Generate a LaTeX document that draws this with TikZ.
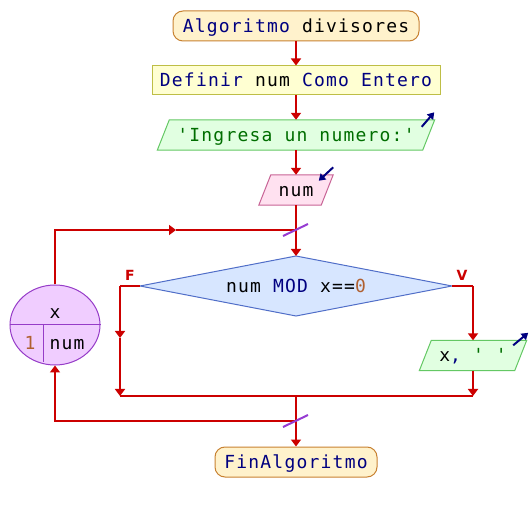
\documentclass[tikz,border=0pt]{standalone}
\usepackage{fontspec}
\setmonofont{DejaVu Sans Mono}[LetterSpace=6.7]
\newfontfamily\lblfont{DejaVu Sans}
\usetikzlibrary{arrows.meta,shapes.geometric,backgrounds}
\definecolor{kwc}{RGB}{0,0,128}
\definecolor{stc}{RGB}{0,110,0}
\definecolor{nmc}{RGB}{176,96,48}
\definecolor{lred}{RGB}{204,0,0}
\definecolor{termF}{RGB}{255,242,204}
\definecolor{termD}{RGB}{200,130,50}
\definecolor{defF}{RGB}{255,255,210}
\definecolor{defD}{RGB}{190,190,70}
\definecolor{outF}{RGB}{225,255,225}
\definecolor{outD}{RGB}{100,200,100}
\definecolor{inF}{RGB}{255,225,240}
\definecolor{inD}{RGB}{200,100,150}
\definecolor{condF}{RGB}{215,230,255}
\definecolor{condD}{RGB}{80,110,200}
\definecolor{loopF}{RGB}{240,205,255}
\definecolor{loopD}{RGB}{150,60,200}
\definecolor{slashc}{RGB}{150,60,210}
\newcommand\kw[1]{\textcolor{kwc}{#1}}
\newcommand\st[1]{\textcolor{stc}{#1}}
\newcommand\nm[1]{\textcolor{nmc}{#1}}
\tikzset{
  txt/.style={font=\ttfamily\fontsize{18}{21}\selectfont, text=black, inner sep=0pt, text height=16pt, text depth=3pt},
  term/.style={txt, rectangle, rounded corners=10pt, draw=termD, fill=termF, line width=1pt, minimum height=30pt},
  defbox/.style={txt, rectangle, draw=defD, fill=defF, line width=1pt, minimum height=29pt},
  iobox/.style={txt, rectangle, minimum height=30pt},
  flow/.style={draw=lred, line width=2pt},
  arr/.style={-{Triangle[width=10pt,length=7pt]}},
  slash/.style={draw=slashc, line width=2pt},
  icon/.style={draw=kwc, line width=2pt, -{Triangle[width=8pt,length=6.5pt]}},
  lbl/.style={font=\lblfont\bfseries\fontsize{14}{16}\selectfont, text=lred, inner sep=0pt},
}
\begin{document}
\begin{tikzpicture}[x=1pt,y=-1pt]
\useasboundingbox (0,0) rectangle (530,510);

% nodes
\node[term, minimum width=246pt] (start) at (296,26) {\kw{Algoritmo} divisores};
\node[defbox, minimum width=288pt] (def) at (296,80.5) {\kw{Definir} num \kw{Como Entero}};
\node[iobox, minimum width=265pt] (out1) at (296,135) {\st{'Ingresa un numero:'}};
\node[iobox, minimum width=62pt] (in1) at (296,190) {num};
\node[txt] (cond) at (296,286) {num \kw{MOD} x==\nm{0}};
\node[iobox, minimum width=95pt] (out2) at (473,355.5) {x\kw{,} \st{' '}};
\node[term, minimum width=162pt] (fin) at (296,462) {\kw{FinAlgoritmo}};
\node[ellipse, draw=loopD, fill=loopF, line width=1pt, minimum width=90pt, minimum height=80pt, inner sep=0pt] (loop) at (55,325) {};
\node[txt] (lx) at (55,312) {x};
\node[txt] (l1) at (30,343) {\nm{1}};
\node[txt] (lnum) at (67,343) {num};
\node[lbl] (lf) at (130,275) {F};
\node[lbl] (lv) at (462,275) {V};

\coordinate (condN) at (296,256);
\coordinate (condS) at (296,316);
\coordinate (condW) at (140,286);
\coordinate (condE) at (452,286);

% shapes behind text
\begin{scope}[on background layer]
\fill[white] (0,0) rectangle (530,510);
\filldraw[draw=outD, fill=outF, line width=1pt]
  ([xshift=6pt]out1.north west) -- ([xshift=6pt]out1.north east) -- ([xshift=-6pt]out1.south east) -- ([xshift=-6pt]out1.south west) -- cycle;
\filldraw[draw=inD, fill=inF, line width=1pt]
  ([xshift=6pt]in1.north west) -- ([xshift=6pt]in1.north east) -- ([xshift=-6pt]in1.south east) -- ([xshift=-6pt]in1.south west) -- cycle;
\filldraw[draw=outD, fill=outF, line width=1pt]
  ([xshift=6pt]out2.north west) -- ([xshift=6pt]out2.north east) -- ([xshift=-6pt]out2.south east) -- ([xshift=-6pt]out2.south west) -- cycle;
\filldraw[draw=condD, fill=condF, line width=1pt]
  (condW) -- (condN) -- (condE) -- (condS) -- cycle;
\end{scope}
\draw[draw=loopD, line width=1pt] (loop.west) -- (loop.east);
\draw[draw=loopD, line width=1pt] (43,325) -- (43,362);

% connectors
\draw[flow,arr] (start.south) -- (def.north);
\draw[flow,arr] (def.south) -- (out1.north);
\draw[flow,arr] (out1.south) -- (in1.north);
\draw[flow,arr] (in1.south) -- (condN);
\coordinate (j1) at (296,230);
\coordinate (m1) at (176,230);
\draw[flow,arr] (loop.north) |- (m1);
\draw[flow] (m1) -- (j1);
\coordinate (fcorner) at (120,286);
\coordinate (fm) at (120,338);
\coordinate (fb) at (120,396);
\draw[flow] (condW) -- (fcorner);
\draw[flow,arr] (fcorner) -- (fm);
\draw[flow,arr] (fm) -- (fb);
\coordinate (vcorner) at (473,286);
\coordinate (vb) at (473,396);
\draw[flow] (condE) -- (vcorner);
\draw[flow,arr] (vcorner) -- (out2.north);
\draw[flow,arr] (out2.south) -- (vb);
\draw[flow] (fb) -- (vb);
\coordinate (j2) at (296,396);
\coordinate (j3) at (296,421);
\draw[flow,arr] (j2) -- (fin.north);
\draw[flow,arr] (j3) -| (loop.south);

% slashes
\draw[slash] ([shift={(-13,6)}]j1) -- ([shift={(12,-6)}]j1);
\draw[slash] ([shift={(-13,6)}]j3) -- ([shift={(12,-6)}]j3);

% io icons
\draw[icon] ([shift={(-7,7)}]out1.north east) -- ([shift={(5.5,-7.5)}]out1.north east);
\draw[icon] ([shift={(6,-7.5)}]in1.north east) -- ([shift={(-8.5,6)}]in1.north east);
\draw[icon] ([shift={(-7.5,5)}]out2.north east) -- ([shift={(7.5,-7.5)}]out2.north east);
\end{tikzpicture}
\end{document}
